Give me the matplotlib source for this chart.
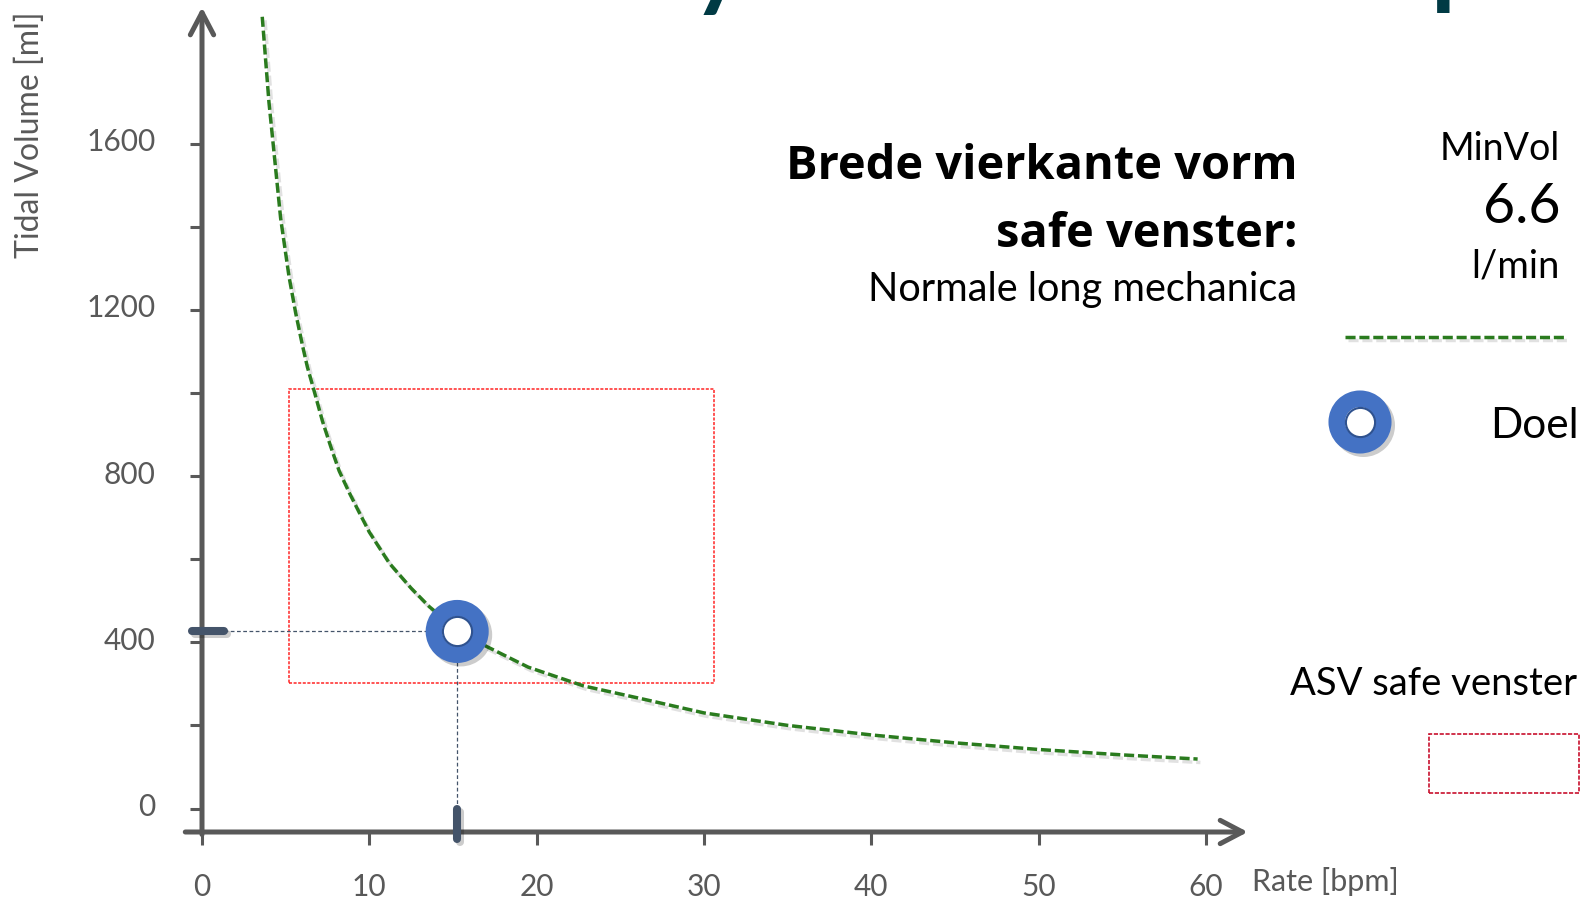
import matplotlib
matplotlib.use('Agg')
import matplotlib.pyplot as plt
import matplotlib.patheffects as pe
import matplotlib.transforms as mtransforms
from matplotlib.lines import Line2D
from matplotlib.patches import Rectangle

plt.rcParams['font.family'] = ['Lato', 'DejaVu Sans']

# ---------------- data ----------------
rate_curve = [3.6, 4.0, 4.3, 4.7, 5.2, 5.6, 6.0, 6.3, 6.7, 7.2, 7.7, 8.2, 8.8, 9.4, 10.0,
              11.2, 12.5, 13.6, 15.2, 17.0, 19.5, 22.8, 26.5, 30.0, 35.0, 40.0, 45.0,
              50.0, 55.0, 59.5]
vt_curve = [1905, 1700, 1580, 1420, 1280, 1192, 1115, 1062, 1005, 932, 870, 812, 760,
            712, 665, 590, 530, 485, 432, 390, 340, 295, 262, 230, 200, 177, 158,
            142, 129, 119]
safe_rate = [5.2, 30.6]
safe_vt = [302, 1009]
target_rate = 15.25
target_vt = 426
minvol = 6.6
x_ticks = [0, 10, 20, 30, 40, 50, 60]
y_ticks = [0, 400, 800, 1200, 1600]
y_minor = [200, 600, 1000, 1400]

# ---------------- layout ----------------
W, H, DPI = 1585, 899, 100
fig = plt.figure(figsize=(W / DPI, H / DPI), dpi=DPI)
fig.patch.set_facecolor('white')


def fx(px):
    return px / W


def fy(py):
    return 1 - py / H


ax_left, ax_bottom = 202, 832       # pixel position of axes origin corner
x_scale, y_scale = 16.733, 0.4156   # px per unit
zero_py = 808.5
ax = fig.add_axes([fx(ax_left), fy(ax_bottom), 1 - fx(ax_left), 1 - fy(ax_bottom)])
ax.set_xlim(0, (W - ax_left) / x_scale)
y0 = -(ax_bottom - zero_py) / y_scale
ax.set_ylim(y0, y0 + ax_bottom / y_scale)
ax.patch.set_alpha(0)
for s in ax.spines.values():
    s.set_visible(False)

axis_c = '#595959'
arrow = dict(arrowstyle='->,head_length=0.8,head_width=0.42', lw=3.6, color=axis_c,
             shrinkA=0, shrinkB=0, mutation_scale=20)
ax.annotate('', xy=(62.5, y0), xytext=(-1.0, y0), arrowprops=arrow, annotation_clip=False)
ax.annotate('', xy=(0, 1928), xytext=(0, y0 - 6), arrowprops=arrow, annotation_clip=False)

ax.set_xticks(x_ticks)
ax.set_xticklabels([str(v) for v in x_ticks])
ax.set_yticks(y_ticks)
ax.set_yticklabels([str(v) for v in y_ticks])
ax.set_yticks(y_minor, minor=True)
ax.tick_params(axis='x', which='major', direction='out', length=9.4, width=2.2, color=axis_c,
               labelsize=21.5, labelcolor=axis_c, pad=20, bottom=True, top=False)
ax.tick_params(axis='x', which='minor', bottom=False, top=False)
ax.tick_params(axis='y', which='both', direction='out', length=8.6, width=2.2, color=axis_c,
               labelsize=21.5, labelcolor=axis_c, pad=25, left=True, right=False)
lift = mtransforms.ScaledTranslation(0, 4 / DPI, fig.dpi_scale_trans)
for lab in ax.get_yticklabels():
    lab.set_transform(lab.get_transform() + lift)

green = '#2A7B1E'
curve_ls = (0, (2.9, 1.1))
shadow_line = [pe.SimpleLineShadow(offset=(2, -2.5), shadow_color='#8a8a8a', alpha=0.25),
               pe.Normal()]

# MinVol curve
ax.plot(rate_curve, vt_curve, color=green, lw=2.5, linestyle=curve_ls,
        path_effects=shadow_line, zorder=3, clip_on=False)

# ASV safe window
ax.add_patch(Rectangle((safe_rate[0], safe_vt[0]), safe_rate[1] - safe_rate[0],
                       safe_vt[1] - safe_vt[0], fill=False, ec='#FF2525', lw=1.1,
                       ls=(0, (2, 1)), zorder=2))

# guide lines to target
guide_c = '#44546A'
ax.plot([1.3, target_rate], [target_vt, target_vt], color=guide_c, lw=0.9,
        ls=(0, (3, 2)), zorder=2)
ax.plot([target_rate, target_rate], [target_vt, 0], color=guide_c, lw=0.9,
        ls=(0, (3, 2)), zorder=2)
shadow_small = [pe.SimpleLineShadow(offset=(2, -2), shadow_color='k', alpha=0.2), pe.Normal()]
ax.plot([-0.6, 1.3], [target_vt, target_vt], color=guide_c, lw=5.8, solid_capstyle='round',
        clip_on=False, zorder=4, path_effects=shadow_small)
ax.plot([target_rate, target_rate], [-1, -73], color=guide_c, lw=5.8, solid_capstyle='round',
        clip_on=False, zorder=4, path_effects=shadow_small)

# target marker
shadow_mk = [pe.SimpleLineShadow(offset=(2.5, -2.5), shadow_color='k', alpha=0.2), pe.Normal()]
ax.plot([target_rate], [target_vt], 'o', ms=33.5, mfc='white', mec='#4472C4', mew=11.9,
        zorder=5, path_effects=shadow_mk)
ax.plot([target_rate], [target_vt], 'o', ms=21, mfc='white', mec='#2F528F', mew=1.5, zorder=6)

# axis labels
fig.text(fx(29.5), fy(135), 'Tidal Volume [ml]', rotation=90, ha='center', va='center',
         fontsize=23, color=axis_c)
fig.text(fx(1252), fy(891), 'Rate [bpm]', ha='left', va='baseline', fontsize=22, color=axis_c)

# annotation text
bold_font = ['Open Sans', 'DejaVu Sans']
fig.text(fx(1297), fy(179), 'Brede vierkante vorm', ha='right', va='baseline', fontsize=33.8,
         fontweight='bold', color='black', family=bold_font)
fig.text(fx(1297), fy(247), 'safe venster:', ha='right', va='baseline', fontsize=33.8,
         fontweight='bold', color='black', family=bold_font)
fig.text(fx(1297), fy(301), 'Normale long mechanica', ha='right', va='baseline', fontsize=28.6,
         color='black')

# legend
fig.text(fx(1560), fy(160), 'MinVol', ha='right', va='baseline', fontsize=27, color='black')
fig.text(fx(1560), fy(223), f'{minvol}', ha='right', va='baseline', fontsize=40, color='black')
fig.text(fx(1560), fy(277), 'l/min', ha='right', va='baseline', fontsize=27.5, color='black')
fig.add_artist(Line2D([fx(1345), fx(1565)], [fy(337), fy(337)], color=green, lw=2.5,
                      linestyle=curve_ls, path_effects=shadow_line))
fig.add_artist(Line2D([fx(1360)], [fy(422)], marker='o', ms=33.5, mfc='white', mec='#4472C4',
                      mew=11.9, linestyle='none', path_effects=shadow_mk))
fig.add_artist(Line2D([fx(1360)], [fy(422)], marker='o', ms=21, mfc='white', mec='#2F528F',
                      mew=1.5, linestyle='none'))
fig.text(fx(1490), fy(438), 'Doel', ha='left', va='baseline', fontsize=30.5, color='black')
fig.text(fx(1290), fy(695), 'ASV safe venster', ha='left', va='baseline', fontsize=27.5,
         color='black')
fig.add_artist(Rectangle((fx(1429), fy(793)), fx(150), 59 / H, transform=fig.transFigure,
                         fill=False, ec='#C8102E', lw=1.2, ls=(0, (2.5, 1))))

# cut-off title fragments at the top edge (the reference is a crop of a slide title)
fig.text(fx(692), 1.0 + 2 / H, 'y', ha='left', va='baseline', fontsize=72, fontweight='bold',
         color='#003A44')
fig.text(fx(1431), 1.0 + 4 / H, 'p', ha='left', va='baseline', fontsize=72, fontweight='bold',
         color='#003A44')

fig.savefig('out.png', dpi=DPI, facecolor='white')
